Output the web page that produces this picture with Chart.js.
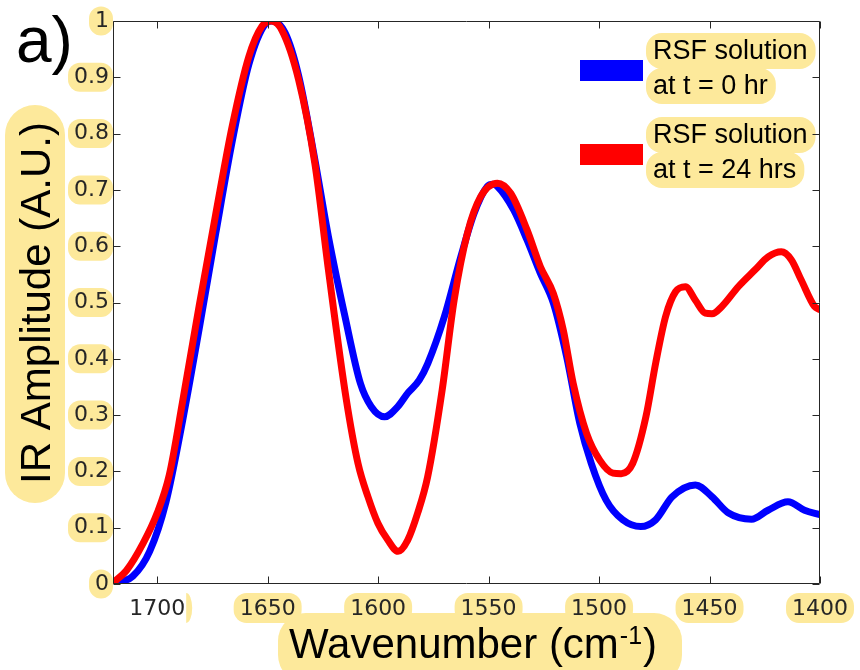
<!DOCTYPE html>
<html>
<head>
<meta charset="utf-8">
<script src="https://cdn.jsdelivr.net/npm/chart.js@4.4.1/dist/chart.umd.min.js"></script>
<style>
  body { margin: 0; background: #fff; }
  #wrap { width: 860px; height: 670px; }
</style>
</head>
<body>
<div id="wrap"><canvas id="irChart" width="860" height="670"></canvas></div>
<script>
// wavenumbers (cm-1) and amplitudes
const blueWn = [1720, 1711, 1703.4, 1696, 1688.5, 1681, 1673.5, 1666, 1658.5, 1651, 1648, 1642, 1636, 1628.6, 1622.5,
  1615, 1608, 1603.1, 1597.1, 1591.1, 1586.6, 1581.4, 1577.5, 1570, 1562.6, 1556.6, 1550.6, 1548, 1546, 1538.6,
  1532.6, 1526.6, 1520.7, 1514.7, 1508.7, 1503.5, 1496.8, 1489.3, 1481.1, 1474.4, 1466.9, 1456.4, 1448.9, 1441.4,
  1431, 1423.5, 1414.5, 1407, 1400];
const blueAmp = [0, 0.014, 0.058, 0.146, 0.29, 0.453, 0.623, 0.787, 0.923, 0.995, 1.0, 0.978, 0.903, 0.753, 0.617,
  0.475, 0.356, 0.315, 0.297, 0.315, 0.339, 0.362, 0.392, 0.475, 0.581, 0.658, 0.706, 0.71, 0.706, 0.664,
  0.611, 0.552, 0.499, 0.404, 0.285, 0.214, 0.149, 0.114, 0.102, 0.114, 0.155, 0.176, 0.155, 0.126,
  0.115, 0.131, 0.146, 0.131, 0.123];

const redWn = [1720, 1713.9, 1706.4, 1700, 1694.5, 1688.5, 1681, 1673.5, 1666, 1658.5, 1652.5, 1648.4, 1643.6, 1636, 1628.6,
  1622.5, 1614.5, 1609.1, 1604.6, 1600.1, 1595.6, 1591, 1586.6, 1582.1, 1577.6, 1571, 1565.6, 1559.6, 1553.6,
  1546, 1540, 1532.6, 1526.6, 1520.7, 1516.2, 1511.7, 1505.7, 1499.7, 1493.7, 1490, 1484.8, 1478.8, 1474.4, 1469.9,
  1465.4, 1460.9, 1456.4, 1451.9, 1448.9, 1444.4, 1437, 1429.4, 1423.5, 1417.5, 1413, 1408.5, 1402.5, 1400.5];
const redAmp = [0.002, 0.024, 0.072, 0.126, 0.194, 0.324, 0.494, 0.657, 0.814, 0.937, 0.991, 1.0, 0.984, 0.896, 0.746,
  0.558, 0.33, 0.214, 0.155, 0.108, 0.078, 0.058, 0.078, 0.126, 0.190, 0.345, 0.504, 0.623, 0.688,
  0.712, 0.694, 0.629, 0.564, 0.516, 0.451, 0.356, 0.268, 0.220, 0.197, 0.196, 0.214, 0.297, 0.392, 0.475,
  0.519, 0.528, 0.504, 0.481, 0.48, 0.493, 0.528, 0.558, 0.581, 0.590, 0.576, 0.540, 0.493, 0.488];

const seriesLabels = [['RSF solution', 'at t = 0 hr'], ['RSF solution', 'at t = 24 hrs']];
const xTicks = [1700, 1650, 1600, 1550, 1500, 1450, 1400];
const yTicks = [0, 0.1, 0.2, 0.3, 0.4, 0.5, 0.6, 0.7, 0.8, 0.9, 1];

const HILITE = '#fde99b';
const AXIS = '#262626';
const TICK_FONT = '22px "DejaVu Sans"';

function toPoints(xs, ys) {
  return xs.map((x, i) => ({ x: x, y: ys[i] }));
}

function pill(ctx, x, y, w, h, r) {
  r = Math.min(r, h / 2, w / 2);
  ctx.beginPath();
  ctx.moveTo(x + r, y);
  ctx.arcTo(x + w, y, x + w, y + h, r);
  ctx.arcTo(x + w, y + h, x, y + h, r);
  ctx.arcTo(x, y + h, x, y, r);
  ctx.arcTo(x, y, x + w, y, r);
  ctx.closePath();
  ctx.fill();
}

// yellow highlight behind tick labels and titles, drawn before the axes
const highlights = {
  id: 'highlights',
  beforeDraw(chart) {
    const ctx = chart.ctx;
    const xs = chart.scales.x, ys = chart.scales.y;
    const area = chart.chartArea;
    ctx.save();
    ctx.fillStyle = HILITE;
    ctx.font = TICK_FONT;
    xTicks.forEach(v => {
      const px = xs.getPixelForValue(v);
      const w = ctx.measureText(String(v)).width;
      if (v === 1700) {
        ctx.beginPath();
        ctx.ellipse(px + 29, area.bottom + 24, 6, 15, 0, -Math.PI / 2, Math.PI / 2);
        ctx.fill();
        return;
      }
      pill(ctx, px - w / 2 - 6, area.bottom + 9, w + 12, 30, 13);
    });
    yTicks.forEach(v => {
      const py = ys.getPixelForValue(v);
      const w = ctx.measureText(String(v)).width;
      pill(ctx, area.left - w - 10, py - 14.5, w + 10, 29, 12);
    });
    // axis titles
    pill(ctx, 5, 105, 60, 398, 30);
    pill(ctx, 278, 613, 404, 70, 28);
    // legend text
    ctx.font = '27px "Liberation Sans", Arial, sans-serif';
    seriesLabels.forEach((lines, i) => {
      lines.forEach((t, j) => {
        const cy = 51 + i * 84 + j * 35;
        const w = ctx.measureText(t).width;
        pill(ctx, 646, cy - 18, w + 15, 36, 16);
      });
    });
    ctx.restore();
  },
  afterDraw(chart) {
    const ctx = chart.ctx;
    const xs = chart.scales.x, ys = chart.scales.y;
    const a = chart.chartArea;
    const L = Math.round(a.left) + 0.5, R = Math.round(a.right) - 0.5;
    const T = Math.round(a.top) + 0.5, B = Math.round(a.bottom) - 0.5;
    ctx.save();
    // axes box with inward ticks
    ctx.strokeStyle = AXIS;
    ctx.lineWidth = 1;
    ctx.beginPath();
    ctx.rect(L, T, R - L, B - T);
    xTicks.forEach(v => {
      const px = Math.round(xs.getPixelForValue(v)) + 0.5;
      ctx.moveTo(px, B); ctx.lineTo(px, B - 7);
      ctx.moveTo(px, T); ctx.lineTo(px, T + 7);
    });
    yTicks.forEach(v => {
      const py = Math.round(ys.getPixelForValue(v)) + 0.5;
      ctx.moveTo(L, py); ctx.lineTo(L + 7, py);
      ctx.moveTo(R, py); ctx.lineTo(R - 7, py);
    });
    ctx.stroke();

    ctx.fillStyle = '#000';
    // panel letter
    ctx.font = '64px "Liberation Sans", Arial, sans-serif';
    ctx.textBaseline = 'alphabetic';
    ctx.textAlign = 'left';
    ctx.fillText('a)', 16, 62);

    // y title
    ctx.font = '42px "Liberation Sans", Arial, sans-serif';
    ctx.save();
    ctx.translate(50, 303);
    ctx.rotate(-Math.PI / 2);
    ctx.textAlign = 'center';
    ctx.fillText('IR Amplitude (A.U.)', 0, 0);
    ctx.restore();

    // x title with superscript
    let x = 289;
    const base = 658;
    ctx.fillText('Wavenumber (cm', x, base);
    x += ctx.measureText('Wavenumber (cm').width;
    ctx.font = '25px "Liberation Sans", Arial, sans-serif';
    ctx.fillText('-1', x + 1, base - 14);
    x += ctx.measureText('-1').width + 2;
    ctx.font = '42px "Liberation Sans", Arial, sans-serif';
    ctx.fillText(')', x, base);

    // legend
    chart.data.datasets.forEach((ds, i) => {
      ctx.fillStyle = ds.borderColor;
      ctx.fillRect(580, 60 + i * 84, 63, 21);
      ctx.fillStyle = '#000';
      ctx.font = '27px "Liberation Sans", Arial, sans-serif';
      ctx.textBaseline = 'middle';
      seriesLabels[i].forEach((t, j) => {
        ctx.fillText(t, 653, 52 + i * 84 + j * 35);
      });
    });
    ctx.restore();
  }
};

const ctx = document.getElementById('irChart').getContext('2d');
const chart = new Chart(ctx, {
  type: 'line',
  data: {
    datasets: [{
      label: seriesLabels[0].join(' '),
      data: toPoints(blueWn, blueAmp),
      borderColor: '#0000ff',
      borderWidth: 7,
      order: 1
    }, {
      label: seriesLabels[1].join(' '),
      data: toPoints(redWn, redAmp),
      borderColor: '#ff0000',
      borderWidth: 7,
      order: 0
    }]
  },
  options: {
    responsive: false,
    animation: false,
    elements: {
      point: { radius: 0 },
      line: { cubicInterpolationMode: 'monotone', borderCapStyle: 'round', borderJoinStyle: 'round', fill: false }
    },
    layout: { padding: { top: 21, right: 35, left: 0, bottom: 0 } },
    plugins: { legend: { display: false }, tooltip: { enabled: false } },
    scales: {
      x: {
        type: 'linear',
        reverse: true,
        min: 1400,
        max: 1720,
        grid: { display: false, drawTicks: false },
        border: { display: false },
        afterBuildTicks: s => { s.ticks = xTicks.map(v => ({ value: v })); },
        afterFit: s => { s.height = 86; },
        ticks: {
          padding: 12,
          maxRotation: 0,
          color: AXIS,
          font: { family: 'DejaVu Sans', size: 22 },
          callback: v => String(v)
        }
      },
      y: {
        min: 0,
        max: 1,
        grid: { display: false, drawTicks: false },
        border: { display: false },
        afterBuildTicks: s => { s.ticks = yTicks.map(v => ({ value: v })); },
        afterFit: s => { s.width = 113; },
        ticks: {
          padding: 4,
          color: AXIS,
          font: { family: 'DejaVu Sans', size: 22 },
          callback: v => String(v)
        }
      }
    }
  },
  plugins: [highlights]
});
</script>
</body>
</html>
